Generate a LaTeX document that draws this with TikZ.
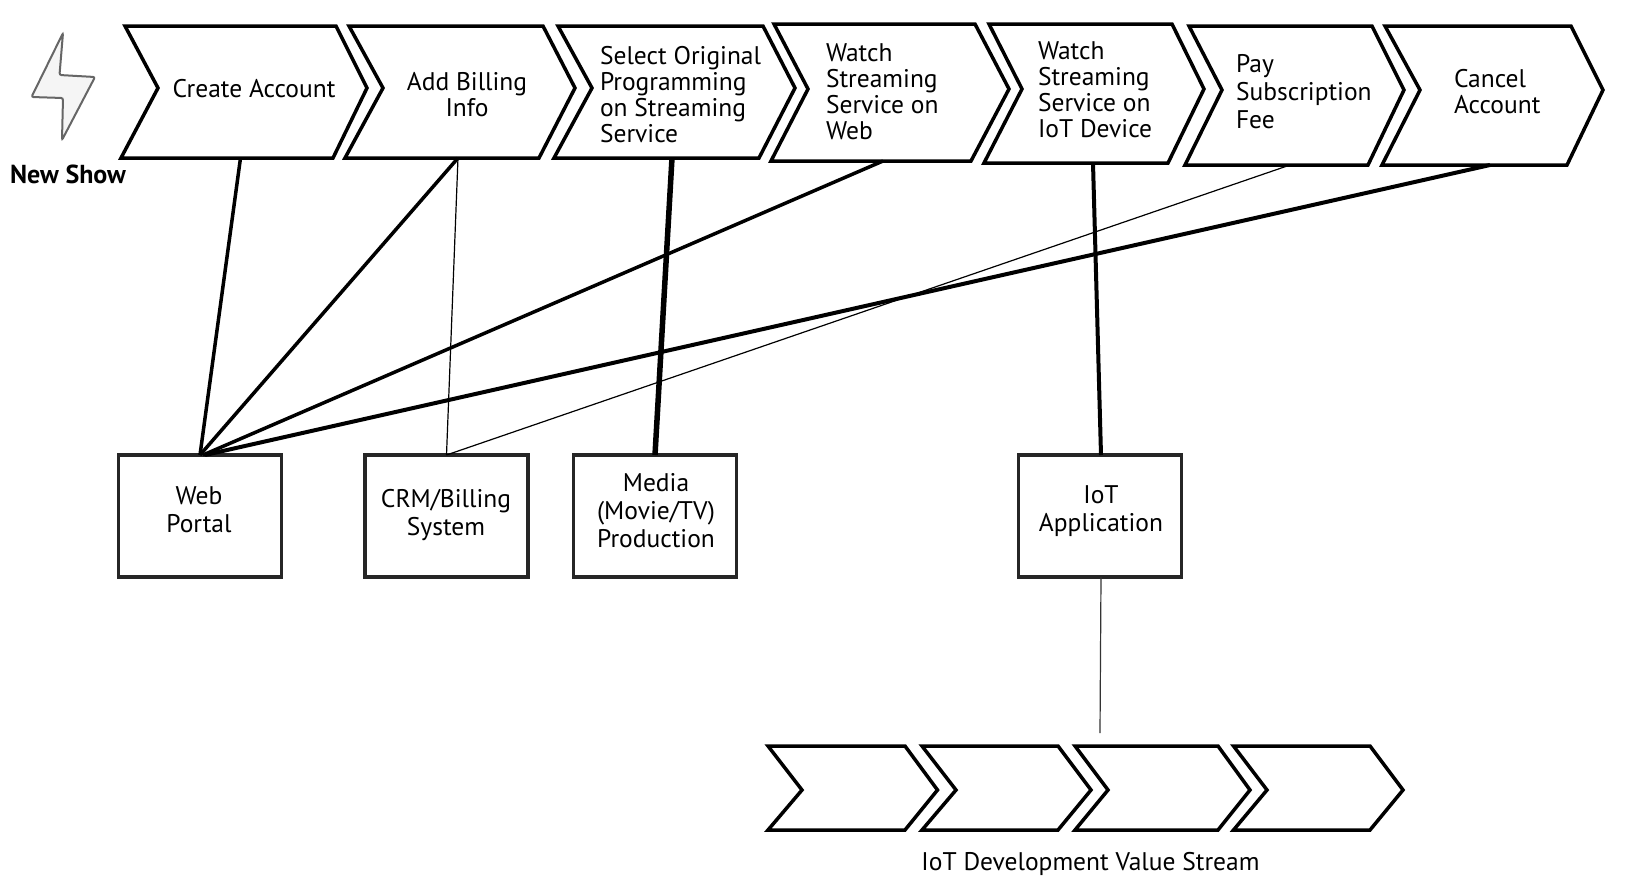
\documentclass[tikz,border=0pt]{standalone}
\usepackage{fontspec}
\setmainfont{PT Sans}
\newcommand{\chevronshape}[9]{\draw[chevline] (#1,#7) -- (#2,#7) -- (#3,#8) -- (#4,#9) -- (#5,#9) -- (#6,#8) -- cycle;}
\tikzset{
  x=1pt,y=-1pt,
  chevline/.style={draw=black,line width=3.5pt,fill=white,line join=miter},
  lab/.style={inner sep=0pt,outer sep=0pt,align=left,font=\fontsize{25.5}{26}\selectfont},
  labc/.style={lab,align=center},
  boxnode/.style={draw=black!85,line width=3.5pt,fill=white,minimum width=163pt,minimum height=122pt,inner sep=0pt,outer sep=0pt,align=center,font=\fontsize{25.5}{28}\selectfont},
  boxtext/.style={inner sep=0pt,align=center,font=\fontsize{25.5}{28}\selectfont},
  hair/.style={line width=1.2pt,black},
  heavy/.style={line width=3.5pt,black},
  heavier/.style={line width=4pt,black},
  heaviest/.style={line width=5.5pt,black},
}
\begin{document}
\begin{tikzpicture}
\useasboundingbox (0,0) rectangle (1650,884);
% icon
\draw[draw=black!60,fill=black!4,line width=2pt,rounded corners=2pt] (63,33) -- (59.5,75) -- (95,77) -- (62,140) -- (63,98) -- (31.5,97) -- cycle;
\node[inner sep=0pt,font=\fontsize{26}{28}\selectfont\bfseries] (newshow) at (68,174) {New Show};
% top chevrons
\chevronshape{125}{336}{367}{333}{121}{158}{26}{88}{158}
\chevronshape{349}{543}{575}{539}{345}{383}{26}{88}{158}
\chevronshape{558}{763}{795}{759}{554}{592}{26}{88}{158}
\chevronshape{774}{975}{1009}{971}{771}{808}{24}{89}{161}
\chevronshape{989}{1172}{1204}{1168}{984}{1022}{24}{89}{163}
\chevronshape{1189}{1372}{1404}{1368}{1185}{1222}{26}{90}{165}
\chevronshape{1385}{1571}{1603}{1567}{1382}{1420}{26}{90}{165}
\node[labc] (c1) at (254,89) {Create Account};
\node[labc] (c2) at (467,94.5) {Add Billing\\Info};
\node[lab,anchor=west] (c3) at (600,95) {Select Original\\Programming\\on Streaming\\Service};
\node[lab,anchor=west] (c4) at (826,92) {Watch\\Streaming\\Service on\\Web};
\node[lab,anchor=west] (c5) at (1038,90) {Watch\\Streaming\\Service on\\IoT Device};
\node[lab,anchor=west,font=\fontsize{25.5}{28}\selectfont] (c6) at (1236,92) {Pay\\Subscription\\Fee};
\node[lab,anchor=west] (c7) at (1454,91.5) {Cancel\\Account};
% ports on the chevrons
\coordinate (p1) at (240.5,158);
\coordinate (p2) at (458,158);
\coordinate (p3) at (672,158);
\coordinate (p4) at (883,161);
\coordinate (p5) at (1093,163);
\coordinate (p6) at (1290,165);
\coordinate (p7) at (1490,165);
% boxes
\node[boxnode] (web) at (200,516) {};
\node[boxnode] (crm) at (446.5,516) {};
\node[boxnode] (media) at (655,516) {};
\node[boxnode] (iot) at (1100,516) {};
\node[boxtext] (webt) at (199,510) {Web\\Portal};
\node[boxtext] (crmt) at (446,515) {CRM/Billing\\System};
\node[boxtext] (mediat) at (656,511) {Media\\(Movie/TV)\\Production};
\node[boxtext] (iott) at (1101,511) {IoT\\Application};
% connectors
\draw[heavy] (p1) -- (web.north);
\draw[heavy] (p2) -- (web.north);
\draw[hair] (p2) -- (crm.north);
\draw[heaviest] (p3) -- (media.north);
\draw[heavy] (p4) -- ([xshift=3pt]web.north);
\draw[heavier] (p5) -- ([xshift=1pt]iot.north);
\draw[hair] (p6) -- (crm.north);
\draw[heavier] (p7) -- ([xshift=5pt]web.north);
\coordinate (streamtop) at (1100,733);
\draw[line width=1.2pt,black!80] ([xshift=1pt]iot.south) -- (streamtop);
% bottom chevrons
\chevronshape{768}{905}{937.5}{905}{768}{802}{746}{790}{830}
\chevronshape{922}{1058}{1091}{1058}{922}{956}{746}{790}{830}
\chevronshape{1075}{1218}{1250}{1218}{1075}{1108}{746}{790}{830}
\chevronshape{1233.5}{1370}{1403}{1370}{1233.5}{1267}{746}{790}{830}
\node[inner sep=0pt,font=\fontsize{25.5}{28}\selectfont] (stream) at (1090.5,864) {IoT Development Value Stream};
\end{tikzpicture}
\end{document}
